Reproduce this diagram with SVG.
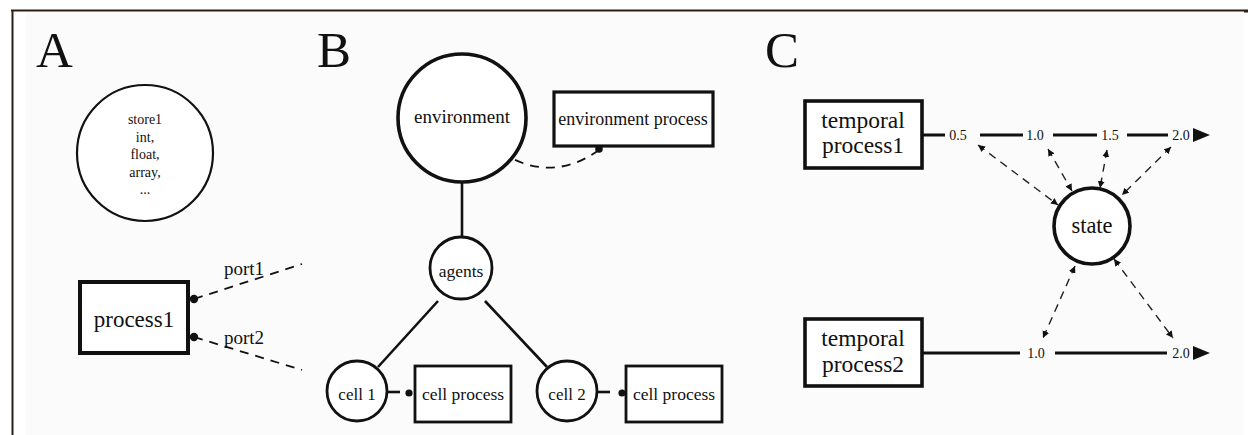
<svg xmlns="http://www.w3.org/2000/svg" width="1248" height="435" viewBox="0 0 1248 435">
  <style>
    text { font-family: "Liberation Serif", "Times New Roman", serif; fill: #111; }
    .panel { font-size: 51px; }
    .node { fill: #fff; stroke: #111; }
    .thin { stroke-width: 2.2; }
    .thick { stroke-width: 3.6; }
    .edge { fill: none; stroke: #111; stroke-width: 2.6; }
    .dash { fill: none; stroke: #111; stroke-width: 1.8; stroke-dasharray: 9 7; }
    .dash2 { fill: none; stroke: #222; stroke-width: 1.4; stroke-dasharray: 8 6; }
    .time { fill: none; stroke: #111; stroke-width: 3; }
    .tick { font-size: 14px; text-anchor: middle; }
    .mid { text-anchor: middle; }
  </style>
  <defs>
    <marker id="tip" viewBox="0 0 10 10" refX="10" refY="5" markerWidth="7" markerHeight="7" markerUnits="userSpaceOnUse" orient="auto-start-reverse">
      <path d="M0,0 L10,5 L0,10 z" fill="#111"/>
    </marker>
  </defs>

  <!-- page frame -->
  <rect x="12" y="11" width="1236" height="424" fill="#fff"/>
  <rect x="26" y="12" width="1217" height="423" fill="#fbfbfb"/>
  <path d="M11,10.5 H1248 M12.5,10 V435" fill="none" stroke="#2a1e14" stroke-width="2"/>
  <rect x="1244" y="10" width="4" height="2.5" fill="#2a1e14"/>

  <!-- panel letters -->
  <text class="panel" x="36" y="67">A</text>
  <text class="panel" x="317" y="67">B</text>
  <text class="panel" x="765" y="67">C</text>

  <!-- connectors -->
  <g id="connectors">
    <!-- panel A ports -->
    <line class="dash" x1="194" y1="299" x2="302" y2="264"/>
    <line class="dash" x1="194" y1="337" x2="302" y2="370"/>
    <!-- panel B tree -->
    <line class="edge" x1="462" y1="182" x2="462" y2="237"/>
    <line class="edge" x1="438" y1="301" x2="378" y2="367"/>
    <line class="edge" x1="485" y1="301" x2="547" y2="367"/>
    <path class="dash" d="M599,150 Q557,180 513,159"/>
    <line class="edge" x1="388" y1="392" x2="400" y2="392"/>
    <line class="edge" x1="598" y1="392" x2="610" y2="392"/>
    <!-- panel C timelines -->
    <path class="time" d="M922,135 H945 M980,135 H1023 M1053,135 H1097 M1127,135 H1168"/>
    <path class="time" d="M922,353 H1020 M1055,353 H1167"/>
    <path d="M1193,128 L1210,135 L1193,142 z" fill="#111"/>
    <path d="M1193,346 L1210,353 L1193,360 z" fill="#111"/>
    <!-- state couplings -->
    <line class="dash2" x1="978" y1="145" x2="1058" y2="205" marker-start="url(#tip)" marker-end="url(#tip)"/>
    <line class="dash2" x1="1048" y1="149" x2="1072" y2="191" marker-start="url(#tip)" marker-end="url(#tip)"/>
    <line class="dash2" x1="1107" y1="150" x2="1100" y2="188" marker-start="url(#tip)" marker-end="url(#tip)"/>
    <line class="dash2" x1="1171" y1="147" x2="1122" y2="195" marker-start="url(#tip)" marker-end="url(#tip)"/>
    <line class="dash2" x1="1075" y1="266" x2="1043" y2="338" marker-start="url(#tip)" marker-end="url(#tip)"/>
    <line class="dash2" x1="1114" y1="259" x2="1173" y2="338" marker-start="url(#tip)" marker-end="url(#tip)"/>
  </g>

  <!-- panel A -->
  <g id="store1">
    <circle class="node thin" cx="145" cy="153" r="68"/>
    <text class="mid" x="145" y="124" font-size="14">store1</text>
    <text class="mid" x="145" y="142" font-size="14">int,</text>
    <text class="mid" x="145" y="159" font-size="14">float,</text>
    <text class="mid" x="145" y="177" font-size="14">array,</text>
    <text class="mid" x="145" y="194" font-size="14">...</text>
  </g>
  <g id="process1">
    <rect class="node" x="80" y="282" width="108" height="71" stroke-width="4"/>
    <text class="mid" x="134" y="327" font-size="23">process1</text>
    <circle cx="194" cy="299" r="4.2" fill="#111"/>
    <circle cx="194" cy="337" r="4.2" fill="#111"/>
  </g>
  <g id="port-labels">
    <text x="224" y="275" font-size="19">port1</text>
    <text x="224" y="344" font-size="19">port2</text>
  </g>

  <!-- panel B -->
  <g id="environment">
    <circle class="node thick" cx="462" cy="118" r="64"/>
    <text class="mid" x="462" y="123" font-size="19">environment</text>
  </g>
  <g id="environment-process">
    <rect class="node" x="554" y="92" width="159" height="54" stroke-width="3.2"/>
    <text class="mid" x="633" y="125" font-size="18">environment process</text>
    <circle cx="599" cy="149" r="3.8" fill="#111"/>
  </g>
  <g id="agents">
    <circle class="node" cx="461" cy="268" r="31" stroke-width="2.8"/>
    <text class="mid" x="461" y="277" font-size="17.5">agents</text>
  </g>
  <g id="cell1">
    <circle class="node" cx="357" cy="391" r="30" stroke-width="2.8"/>
    <text class="mid" x="357" y="400" font-size="17">cell 1</text>
  </g>
  <g id="cell-process-1">
    <rect class="node" x="415" y="366" width="96" height="56" stroke-width="2.8"/>
    <text class="mid" x="463" y="400" font-size="17.5">cell process</text>
    <circle cx="409" cy="393" r="3.6" fill="#111"/>
  </g>
  <g id="cell2">
    <circle class="node" cx="567" cy="391" r="30" stroke-width="2.8"/>
    <text class="mid" x="567" y="400" font-size="17">cell 2</text>
  </g>
  <g id="cell-process-2">
    <rect class="node" x="626" y="366" width="96" height="56" stroke-width="2.8"/>
    <text class="mid" x="674" y="400" font-size="17.5">cell process</text>
    <circle cx="622" cy="393" r="3.6" fill="#111"/>
  </g>

  <!-- panel C -->
  <g id="temporal-process1">
    <rect class="node" x="805" y="101" width="117" height="67" stroke-width="3.6"/>
    <text class="mid" x="863" y="128" font-size="23.5">temporal</text>
    <text class="mid" x="863" y="153" font-size="23.5">process1</text>
  </g>
  <g id="timeline1-labels">
    <text class="tick" x="958" y="140">0.5</text>
    <text class="tick" x="1035" y="140">1.0</text>
    <text class="tick" x="1110" y="140">1.5</text>
    <text class="tick" x="1181" y="140">2.0</text>
  </g>
  <g id="state">
    <circle class="node" cx="1092" cy="226" r="38" stroke-width="3.6"/>
    <text class="mid" x="1092" y="233" font-size="22.5">state</text>
  </g>
  <g id="temporal-process2">
    <rect class="node" x="805" y="319" width="117" height="67" stroke-width="3.6"/>
    <text class="mid" x="863" y="346" font-size="23.5">temporal</text>
    <text class="mid" x="863" y="372" font-size="23.5">process2</text>
  </g>
  <g id="timeline2-labels">
    <text class="tick" x="1036" y="358">1.0</text>
    <text class="tick" x="1181" y="358">2.0</text>
  </g>
</svg>
